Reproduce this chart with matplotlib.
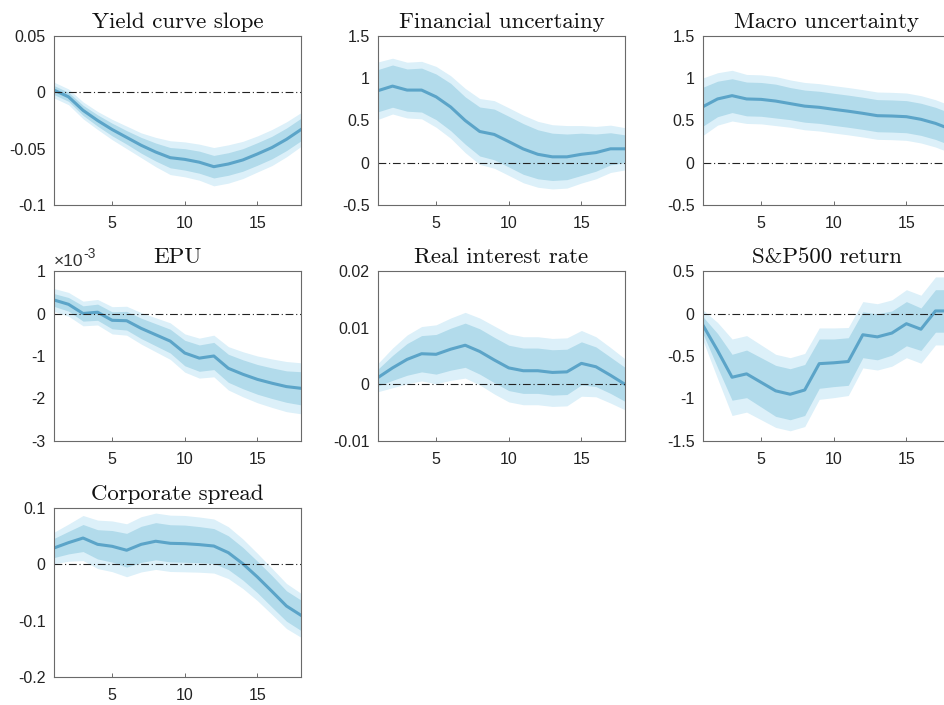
import matplotlib
matplotlib.use("Agg")
import matplotlib.pyplot as plt
import numpy as np

plt.rcParams['axes.unicode_minus'] = False
plt.rcParams['font.family'] = ['Liberation Sans', 'DejaVu Sans']

horizon = list(range(1, 19))

titles = ["Yield curve slope", "Financial uncertainy", "Macro uncertainty",
          "EPU", "Real interest rate", "S&P500 return", "Corporate spread"]

# median responses
yield_slope = [0.002, -0.004, -0.016, -0.025, -0.033, -0.040, -0.047, -0.053, -0.058,
               -0.0595, -0.062, -0.066, -0.0636, -0.060, -0.0547, -0.049, -0.0417, -0.033]
fin_unc = [0.853, 0.907, 0.86, 0.86, 0.78, 0.66, 0.50, 0.37, 0.335, 0.25, 0.163, 0.10,
           0.07, 0.07, 0.10, 0.12, 0.165, 0.165]
macro_unc = [0.664, 0.755, 0.794, 0.755, 0.75, 0.73, 0.70, 0.67, 0.656, 0.632, 0.61, 0.585,
             0.557, 0.553, 0.545, 0.514, 0.466, 0.40]
epu = [0.318, 0.216, 0.0, 0.03, -0.16, -0.17, -0.35, -0.5, -0.65, -0.93, -1.05, -1.0,
       -1.29, -1.43, -1.55, -1.64, -1.72, -1.76]  # x 10^-3
real_rate = [0.0012, 0.0029, 0.0044, 0.0054, 0.0053, 0.0062, 0.0069, 0.0058, 0.0043, 0.0029,
             0.0024, 0.0024, 0.0021, 0.0022, 0.0037, 0.0031, 0.0016, 0.0]
sp500 = [-0.139, -0.435, -0.75, -0.71, -0.81, -0.91, -0.95, -0.90, -0.59, -0.58, -0.565,
         -0.25, -0.275, -0.23, -0.12, -0.185, 0.03, 0.03]
corp_spread = [0.029, 0.0385, 0.0467, 0.0355, 0.032, 0.025, 0.0355, 0.041, 0.0373, 0.0367,
               0.035, 0.0325, 0.0207, 0.001, -0.0225, -0.048, -0.074, -0.0905]

# half-widths of inner (68%) and outer (90%) bands
yield_inner = [0.004, 0.004, 0.0045, 0.005, 0.0056, 0.006, 0.007, 0.008, 0.009, 0.0095,
               0.0098, 0.010, 0.010, 0.010, 0.010, 0.010, 0.010, 0.010]
yield_outer = [0.007, 0.007, 0.0075, 0.008, 0.009, 0.010, 0.011, 0.013, 0.015, 0.0155,
               0.016, 0.017, 0.017, 0.0165, 0.016, 0.016, 0.0155, 0.015]
fin_inner = [0.25, 0.25, 0.25, 0.26, 0.27, 0.28, 0.28, 0.29, 0.30, 0.30, 0.30, 0.29,
             0.28, 0.27, 0.25, 0.22, 0.19, 0.165]
fin_outer = [0.34, 0.33, 0.33, 0.34, 0.36, 0.37, 0.38, 0.39, 0.40, 0.40, 0.40, 0.39,
             0.38, 0.37, 0.34, 0.31, 0.28, 0.25]
macro_inner = [0.23, 0.21, 0.20, 0.20, 0.20, 0.20, 0.19, 0.19, 0.19, 0.19, 0.19, 0.19,
               0.19, 0.19, 0.19, 0.19, 0.19, 0.19]
macro_outer = [0.34, 0.31, 0.30, 0.29, 0.29, 0.29, 0.28, 0.28, 0.28, 0.28, 0.28, 0.28,
               0.28, 0.28, 0.28, 0.28, 0.28, 0.28]
epu_inner = [0.15, 0.16, 0.18, 0.19, 0.2, 0.22, 0.24, 0.26, 0.28, 0.30, 0.31, 0.32,
             0.33, 0.34, 0.35, 0.36, 0.37, 0.39]
epu_outer = [0.27, 0.28, 0.29, 0.30, 0.32, 0.34, 0.37, 0.40, 0.43, 0.45, 0.47, 0.49,
             0.51, 0.53, 0.55, 0.57, 0.59, 0.60]
rate_inner = [0.0015, 0.0022, 0.0028, 0.0032, 0.0035, 0.0037, 0.0039, 0.0040, 0.0040, 0.0040,
              0.0040, 0.0040, 0.0040, 0.0040, 0.0038, 0.0035, 0.0032, 0.0030]
rate_outer = [0.0025, 0.0035, 0.0043, 0.0048, 0.0052, 0.0055, 0.0058, 0.0059, 0.0060, 0.0060,
              0.0060, 0.0060, 0.0060, 0.0060, 0.0058, 0.0053, 0.0049, 0.0045]
sp_inner = [0.10, 0.20, 0.27, 0.28, 0.29, 0.30, 0.30, 0.30, 0.29, 0.28, 0.28, 0.27,
            0.27, 0.26, 0.26, 0.25, 0.25, 0.25]
sp_outer = [0.18, 0.33, 0.45, 0.45, 0.44, 0.43, 0.43, 0.43, 0.42, 0.41, 0.40, 0.39,
            0.39, 0.39, 0.40, 0.40, 0.40, 0.40]
corp_inner = [0.017, 0.02, 0.024, 0.026, 0.028, 0.030, 0.032, 0.033, 0.033, 0.033, 0.032,
              0.031, 0.030, 0.029, 0.028, 0.028, 0.027, 0.027]
corp_outer = [0.028, 0.033, 0.04, 0.043, 0.045, 0.047, 0.049, 0.05, 0.05, 0.05, 0.049,
              0.048, 0.046, 0.044, 0.042, 0.041, 0.040, 0.039]

series = [
    (yield_slope, yield_inner, yield_outer, (-0.1, 0.05), [-0.1, -0.05, 0, 0.05], ["-0.1", "-0.05", "0", "0.05"]),
    (fin_unc, fin_inner, fin_outer, (-0.5, 1.5), [-0.5, 0, 0.5, 1, 1.5], ["-0.5", "0", "0.5", "1", "1.5"]),
    (macro_unc, macro_inner, macro_outer, (-0.5, 1.5), [-0.5, 0, 0.5, 1, 1.5], ["-0.5", "0", "0.5", "1", "1.5"]),
    (epu, epu_inner, epu_outer, (-3, 1), [-3, -2, -1, 0, 1], ["-3", "-2", "-1", "0", "1"]),
    (real_rate, rate_inner, rate_outer, (-0.01, 0.02), [-0.01, 0, 0.01, 0.02], ["-0.01", "0", "0.01", "0.02"]),
    (sp500, sp_inner, sp_outer, (-1.5, 0.5), [-1.5, -1, -0.5, 0, 0.5], ["-1.5", "-1", "-0.5", "0", "0.5"]),
    (corp_spread, corp_inner, corp_outer, (-0.2, 0.1), [-0.2, -0.1, 0, 0.1], ["-0.2", "-0.1", "0", "0.1"]),
]

W, H = 944, 705
col_left = [54, 378, 703]
ax_w = 247
rows = [(36, 205), (271, 441), (508, 677)]

outer_col = "#dcf0f9"
inner_col = "#b2dbeb"
line_col = "#5ba4c8"

fig = plt.figure(figsize=(W / 100, H / 100), dpi=100)
x = np.array(horizon)
for i, (med, inn, out, ylim, yt, ytl) in enumerate(series):
    r, c = divmod(i, 3)
    top, bot = rows[r]
    ax = fig.add_axes([col_left[c] / W, 1 - bot / H, ax_w / W, (bot - top) / H])
    med = np.array(med); inn = np.array(inn); out = np.array(out)
    ax.fill_between(x, med - out, med + out, color=outer_col, lw=0)
    ax.fill_between(x, med - inn, med + inn, color=inner_col, lw=0)
    ax.plot(x, med, color=line_col, lw=2.2)
    ax.axhline(0, color="#222222", lw=0.8, ls=(0, (7, 2.5, 1, 2.5)))
    ax.set_xlim(1, 18)
    ax.set_ylim(*ylim)
    ax.set_xticks([5, 10, 15])
    ax.set_xticklabels(["5", "10", "15"])
    ax.set_yticks(yt)
    ax.set_yticklabels(ytl)
    ax.tick_params(axis='x', direction='in', length=3, width=0.6, color="#555555",
                   labelsize=11.5, pad=8, labelcolor="#222222")
    ax.tick_params(axis='y', direction='in', length=0, labelsize=11.5, pad=6,
                   labelcolor="#222222")
    for s in ax.spines.values():
        s.set_color("#6a6a6a")
        s.set_linewidth(0.8)
    ax.set_title(titles[i], family="cmr10", fontsize=16.5, pad=6, color="#111111")
    if i == 3:
        t1 = ax.text(0.0, 1.01, "\u00d710", transform=ax.transAxes, fontsize=12.5,
                     ha="left", va="bottom", color="#333333")
        ax.annotate("-3", xy=(1.0, 0.55), xycoords=t1, fontsize=10,
                    ha="left", va="bottom", color="#333333")

fig.savefig("out.png", dpi=100)
